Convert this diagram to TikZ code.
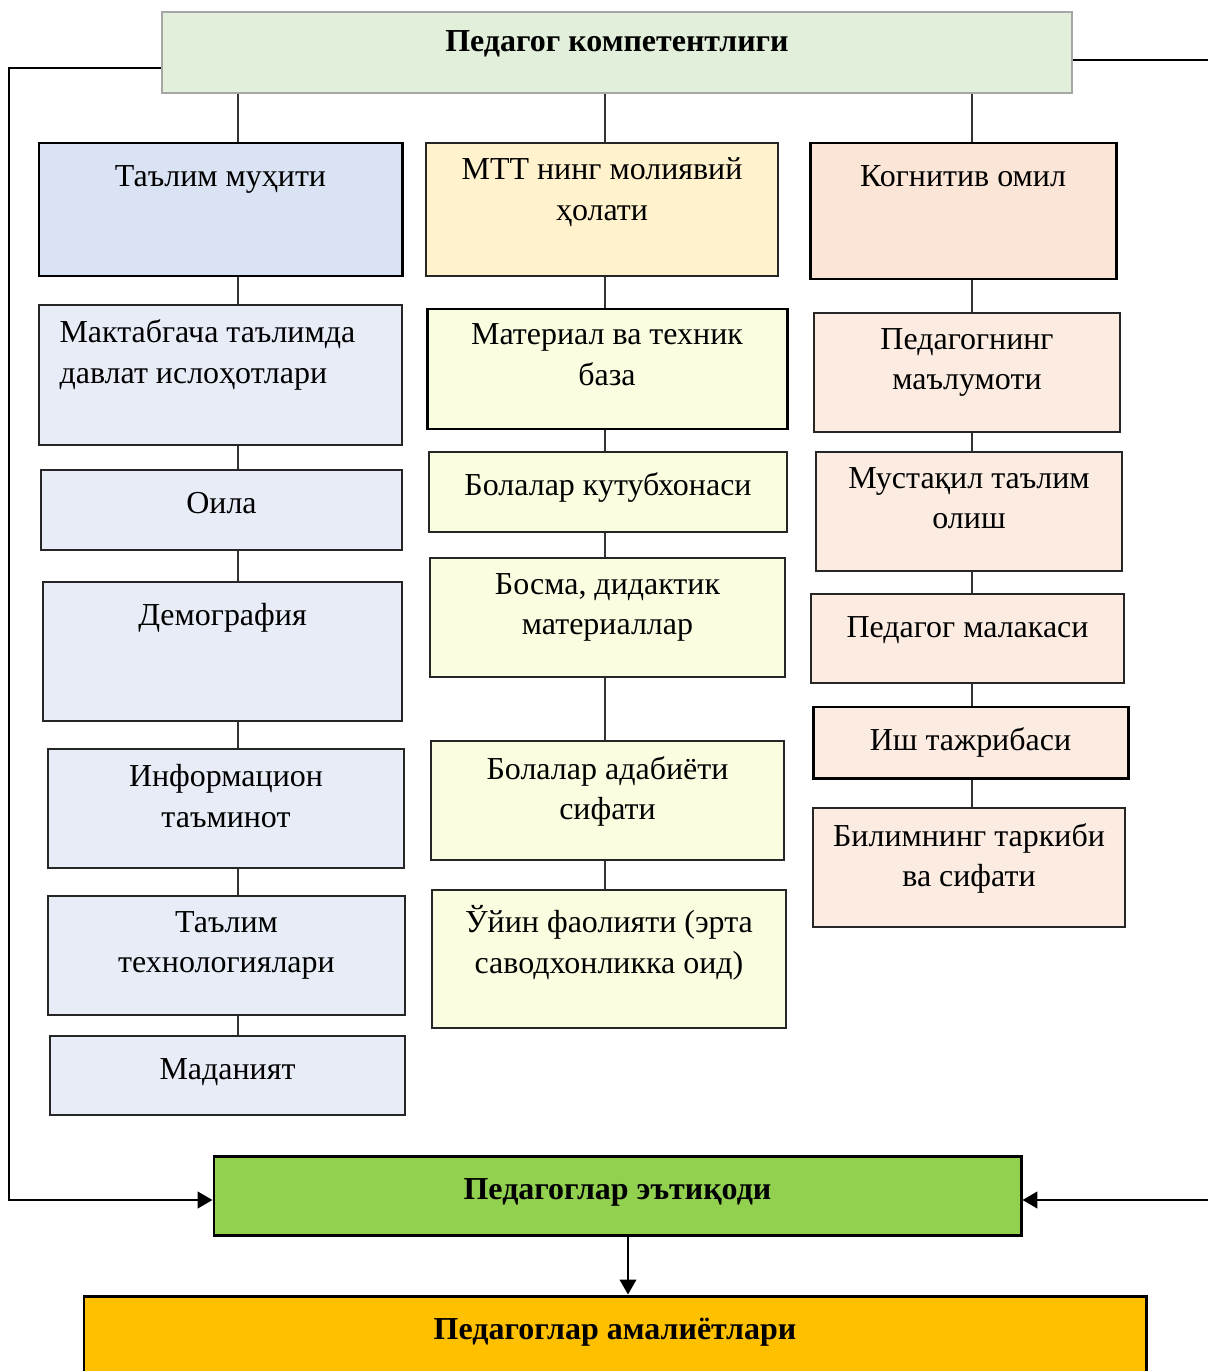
\documentclass[tikz,border=0pt]{standalone}
\usepackage{fontspec}
\setmainfont{Liberation Serif}
\usetikzlibrary{fit,arrows.meta}

\definecolor{topfill}{HTML}{E2EFDA}
\definecolor{topdraw}{HTML}{A6A6A6}
\definecolor{blueA}{HTML}{DAE3F3}
\definecolor{blueB}{HTML}{E7ECF7}
\definecolor{yelA}{HTML}{FFF2CC}
\definecolor{yelB}{HTML}{FAFDE0}
\definecolor{pchA}{HTML}{FBE5D6}
\definecolor{pchB}{HTML}{FBEBE1}
\definecolor{ethfill}{HTML}{92D050}
\definecolor{amalfill}{HTML}{FFC000}

\tikzset{
  box/.style={rectangle, inner sep=0pt, draw=black!85, line width=1pt},
  boxb/.style={box, draw=black, line width=1.7pt},
  txt/.style={anchor=north, inner sep=0pt, yshift=-8.9pt, align=center,
    font=\fontsize{18.2}{23.3}\selectfont, execute at begin node=\strut},
  ttl/.style={txt, font=\fontsize{18.2}{23.3}\selectfont\bfseries},
  conn/.style={draw=black!80, line width=0.7pt},
  link/.style={draw=black, line width=1.3pt, -{Triangle[length=8.5pt,width=9.5pt]}}
}

\begin{document}
\begin{tikzpicture}[x=0.02cm, y=-0.02cm]
    \useasboundingbox (0,0) rectangle (1207,1371);

    % Yuqori blok
    \node[box, draw=topdraw, line width=1.2pt, fill=topfill, fit={(162,12) (1072,93)}] (top) {};
    \node[ttl, yshift=2.6pt] (topT) at (top.north) {Педагог компетентлиги};

    % Chap ustun
    \node[boxb, fill=blueA, fit={(39,143) (402,276)}] (tm) {};
    \node[box, fill=blueB, fit={(39,305) (402,445)}] (mt) {};
    \node[box, fill=blueB, fit={(41,470) (402,550)}] (oi) {};
    \node[box, fill=blueB, fit={(43,582) (402,721)}] (dm) {};
    \node[box, fill=blueB, fit={(48,749) (404,868)}] (im) {};
    \node[box, fill=blueB, fit={(48,896) (405,1015)}] (tt) {};
    \node[box, fill=blueB, fit={(50,1036) (405,1115)}] (md) {};

    \node[txt] (tmT) at (tm.north) {Таълим муҳити};
    \node[txt, anchor=north west, align=left, xshift=12pt] (mtT) at (mt.north west) {Мактабгача таълимда\\давлат ислоҳотлари};
    \node[txt] (oiT) at (oi.north) {Оила};
    \node[txt] (dmT) at (dm.north) {Демография};
    \node[txt] (imT) at (im.north) {Информацион\\таъминот};
    \node[txt] (ttT) at (tt.north) {Таълим\\технологиялари};
    \node[txt] (mdT) at (md.north) {Маданият};

    % O'rta ustun
    \node[box, fill=yelA, fit={(426,143) (778,276)}] (mm) {};
    \node[boxb, fill=yelB, fit={(427,309) (787,429)}] (mb) {};
    \node[box, fill=yelB, fit={(429,452) (787,532)}] (bk) {};
    \node[box, fill=yelB, fit={(430,558) (785,677)}] (bd) {};
    \node[box, fill=yelB, fit={(431,741) (784,860)}] (ba) {};
    \node[box, fill=yelB, fit={(432,890) (786,1028)}] (uf) {};

    \node[txt] (mmT) at (mm.north) {МТТ нинг молиявий\\ҳолати};
    \node[txt] (mbT) at (mb.north) {Материал ва техник\\база};
    \node[txt] (bkT) at (bk.north) {Болалар кутубхонаси};
    \node[txt] (bdT) at (bd.north) {Босма, дидактик\\материаллар};
    \node[txt] (baT) at (ba.north) {Болалар адабиёти\\сифати};
    \node[txt] (ufT) at (uf.north) {Ўйин фаолияти (эрта\\саводхонликка оид)};

    % O'ng ustun
    \node[boxb, fill=pchA, fit={(810,143) (1116,279)}] (ko) {};
    \node[box, fill=pchB, fit={(814,313) (1120,432)}] (pm) {};
    \node[box, fill=pchB, fit={(816,452) (1122,571)}] (mo) {};
    \node[box, fill=pchB, fit={(811,594) (1124,683)}] (ml) {};
    \node[boxb, fill=pchB, fit={(813,707) (1128,778)}] (it) {};
    \node[box, fill=pchB, fit={(813,808) (1125,927)}] (bt) {};

    \node[txt] (koT) at (ko.north) {Когнитив омил};
    \node[txt] (pmT) at (pm.north) {Педагогнинг\\маълумоти};
    \node[txt] (moT) at (mo.north) {Мустақил таълим\\олиш};
    \node[txt] (mlT) at (ml.north) {Педагог малакаси};
    \node[txt] (itT) at (it.north) {Иш тажрибаси};
    \node[txt] (btT) at (bt.north) {Билимнинг таркиби\\ва сифати};

    % Pastki bloklar
    \node[boxb, fill=ethfill, fit={(214,1156) (1021,1235)}] (eth) {};
    \node[ttl] (ethT) at (eth.north) {Педагоглар эътиқоди};
    \node[boxb, fill=amalfill, fit={(84,1296) (1146,1400)}] (amal) {};
    \node[ttl] (amalT) at (amal.north) {Педагоглар амалиётлари};

    % Bog'lovchi chiziqlar
    \coordinate (cL) at (238,0);
    \coordinate (cM) at (605,0);
    \coordinate (cR) at (972,0);
    \draw[conn] (top.south -| cL) -- (tm.north -| cL);
    \draw[conn] (tm.south -| cL) -- (mt.north -| cL);
    \draw[conn] (mt.south -| cL) -- (oi.north -| cL);
    \draw[conn] (oi.south -| cL) -- (dm.north -| cL);
    \draw[conn] (dm.south -| cL) -- (im.north -| cL);
    \draw[conn] (im.south -| cL) -- (tt.north -| cL);
    \draw[conn] (tt.south -| cL) -- (md.north -| cL);

    \draw[conn] (top.south -| cM) -- (mm.north -| cM);
    \draw[conn] (mm.south -| cM) -- (mb.north -| cM);
    \draw[conn] (mb.south -| cM) -- (bk.north -| cM);
    \draw[conn] (bk.south -| cM) -- (bd.north -| cM);
    \draw[conn] (bd.south -| cM) -- (ba.north -| cM);
    \draw[conn] (ba.south -| cM) -- (uf.north -| cM);

    \draw[conn] (top.south -| cR) -- (ko.north -| cR);
    \draw[conn] (ko.south -| cR) -- (pm.north -| cR);
    \draw[conn] (pm.south -| cR) -- (mo.north -| cR);
    \draw[conn] (mo.south -| cR) -- (ml.north -| cR);
    \draw[conn] (ml.south -| cR) -- (it.north -| cR);
    \draw[conn] (it.south -| cR) -- (bt.north -| cR);

    % Tashqi strelkalar
    \coordinate (ya) at (0,68);
    \coordinate (yb) at (0,60);
    \coordinate (yc) at (0,1200);
    \coordinate (lft) at (9,0);
    \coordinate (rgt) at (1220,0);
    \coordinate (dx) at (628,0);
    \draw[link] (top.west |- ya) -| (lft |- yc) -- (eth.west |- yc);
    \draw[draw=black, line width=1.3pt] (top.east |- yb) -- (rgt |- yb);
    \draw[link] (rgt |- yc) -- (eth.east |- yc);
    \draw[link, line width=0.9pt] (eth.south -| dx) -- (amal.north -| dx);
\end{tikzpicture}
\end{document}
